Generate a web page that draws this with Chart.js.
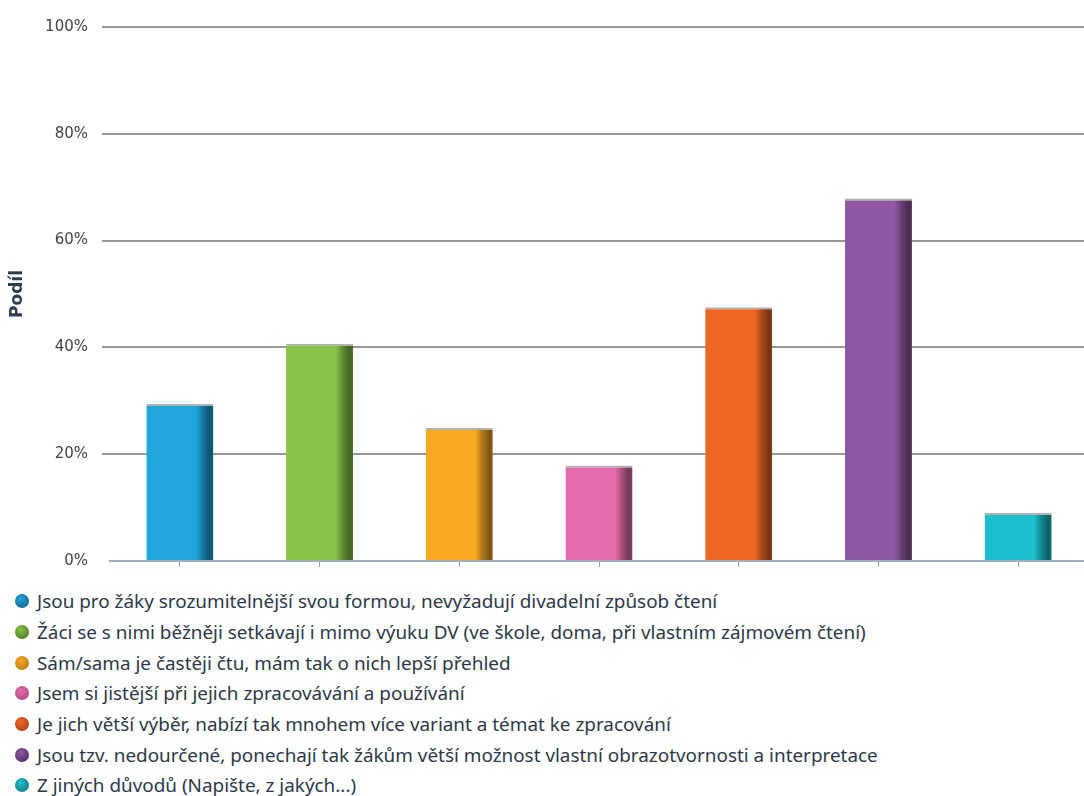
<!DOCTYPE html>
<html>
<head>
<meta charset="utf-8">
<script src="https://cdn.jsdelivr.net/npm/chart.js@4.4.0/dist/chart.umd.min.js"></script>
<style>
  html, body { margin: 0; padding: 0; background: #fff; overflow: hidden; width: 1084px; height: 796px; }
  #wrap { position: relative; width: 1088px; height: 585px; }
  #legend { position: absolute; left: 0; top: 586px; margin: 0; padding: 0; list-style: none;
            font-family: "Noto Sans", sans-serif; font-size: 18.9px; color: #2c384a; }
  #legend li { height: 30.7px; display: flex; align-items: center; white-space: nowrap; }
  #legend .dot { width: 14px; height: 14px; border-radius: 50%; margin-left: 15px; margin-right: 8px; flex: none; }
</style>
</head>
<body>
<div id="wrap"><canvas id="chart"></canvas></div>
<ul id="legend"></ul>
<script>
// Categories (legend texts), values in percent and colours
const labels = [
    'Jsou pro žáky srozumitelnější svou formou, nevyžadují divadelní způsob čtení',
    'Žáci se s nimi běžněji setkávají i mimo výuku DV (ve škole, doma, při vlastním zájmovém čtení)',
    'Sám/sama je častěji čtu, mám tak o nich lepší přehled',
    'Jsem si jistější při jejich zpracovávání a používání',
    'Je jich větší výběr, nabízí tak mnohem více variant a témat ke zpracování',
    'Jsou tzv. nedourčené, ponechají tak žákům větší možnost vlastní obrazotvornosti a interpretace',
    'Z jiných důvodů (Napište, z jakých...)'
];
const values = [29.4, 40.7, 24.9, 17.9, 47.5, 67.9, 9.0];
const barColors = ['#1ea6dd', '#89c446', '#f9a824', '#e56caa', '#ef6623', '#8f57a2', '#1cbfce'];
const dotColors = ['#1b6f99', '#577f2d', '#c08618', '#b24f86', '#b84719', '#5c3270', '#17858e'];
const yTicks = [0, 20, 40, 60, 80, 100];

const BAR_PCT = 0.48;

// darken a hex colour by factor f
function shade(hex, f) {
    const n = parseInt(hex.slice(1), 16);
    const r = Math.round(((n >> 16) & 255) * f);
    const g = Math.round(((n >> 8) & 255) * f);
    const b = Math.round((n & 255) * f);
    return `rgb(${r},${g},${b})`;
}

// horizontal gradient to give the bars the rounded look
function barGradient(c) {
    const chart = c.chart;
    const col = barColors[c.dataIndex];
    const xs = chart.scales.x;
    if (!chart.chartArea || !xs) return col;
    const cx = xs.getPixelForValue(c.dataIndex);
    const w = xs.width / labels.length * BAR_PCT;
    const g = chart.ctx.createLinearGradient(cx - w / 2, 0, cx + w / 2, 0);
    g.addColorStop(0, col);
    g.addColorStop(0.74, col);
    g.addColorStop(0.84, shade(col, 0.72));
    g.addColorStop(0.95, shade(col, 0.5));
    g.addColorStop(1, shade(col, 0.58));
    return g;
}

const ctx = document.getElementById('chart').getContext('2d');

const chart = new Chart(ctx, {
    type: 'bar',
    data: {
        labels: labels,
        datasets: [{
            label: 'Podíl',
            data: values,
            backgroundColor: barGradient,
            borderColor: 'rgba(170,170,170,0.9)',
            borderWidth: { top: 2, left: 0, right: 0, bottom: 0 },
            borderSkipped: false,
            barPercentage: BAR_PCT,
            categoryPercentage: 1
        }]
    },
    options: {
        responsive: true,
        maintainAspectRatio: false,
        animation: false,
        layout: { padding: { top: 27, right: 0, bottom: 0, left: 0 } },
        plugins: {
            legend: { display: false },
            tooltip: {
                callbacks: { label: (item) => item.parsed.y + ' %' }
            }
        },
        scales: {
            x: {
                grid: {
                    offset: false,
                    drawOnChartArea: false,
                    drawTicks: true,
                    tickLength: 6,
                    color: '#9aa0aa',
                    lineWidth: 1
                },
                border: { display: true, color: '#a5adba', width: 2 },
                ticks: { callback: () => '', padding: 0 },
                afterFit: (s) => { s.height = 24; }
            },
            y: {
                min: 0,
                max: 100,
                afterBuildTicks: (s) => { s.ticks = yTicks.map(v => ({ value: v })); },
                grid: {
                    color: (c) => c.tick && c.tick.value === 0 ? 'rgba(0,0,0,0)' : '#979797',
                    lineWidth: 2,
                    tickLength: 8
                },
                border: { display: false },
                ticks: {
                    padding: 14,
                    color: '#444',
                    font: { family: 'DejaVu Sans', size: 15 },
                    callback: (v) => v + '%'
                },
                title: {
                    display: true,
                    text: 'Podíl',
                    color: '#2c3e50',
                    font: { family: 'DejaVu Sans', size: 17, weight: 'bold' },
                    padding: { top: 7, bottom: 0 }
                },
                afterFit: (s) => { s.width = 110; }
            }
        }
    }
});

// legend below the chart, one item per line
const legendEl = document.getElementById('legend');
labels.forEach((text, i) => {
    const li = document.createElement('li');
    const dot = document.createElement('span');
    dot.className = 'dot';
    dot.style.background = `radial-gradient(circle at 40% 35%, ${barColors[i]}, ${dotColors[i]} 70%)`;
    li.appendChild(dot);
    li.appendChild(document.createTextNode(text));
    legendEl.appendChild(li);
});
</script>
</body>
</html>
